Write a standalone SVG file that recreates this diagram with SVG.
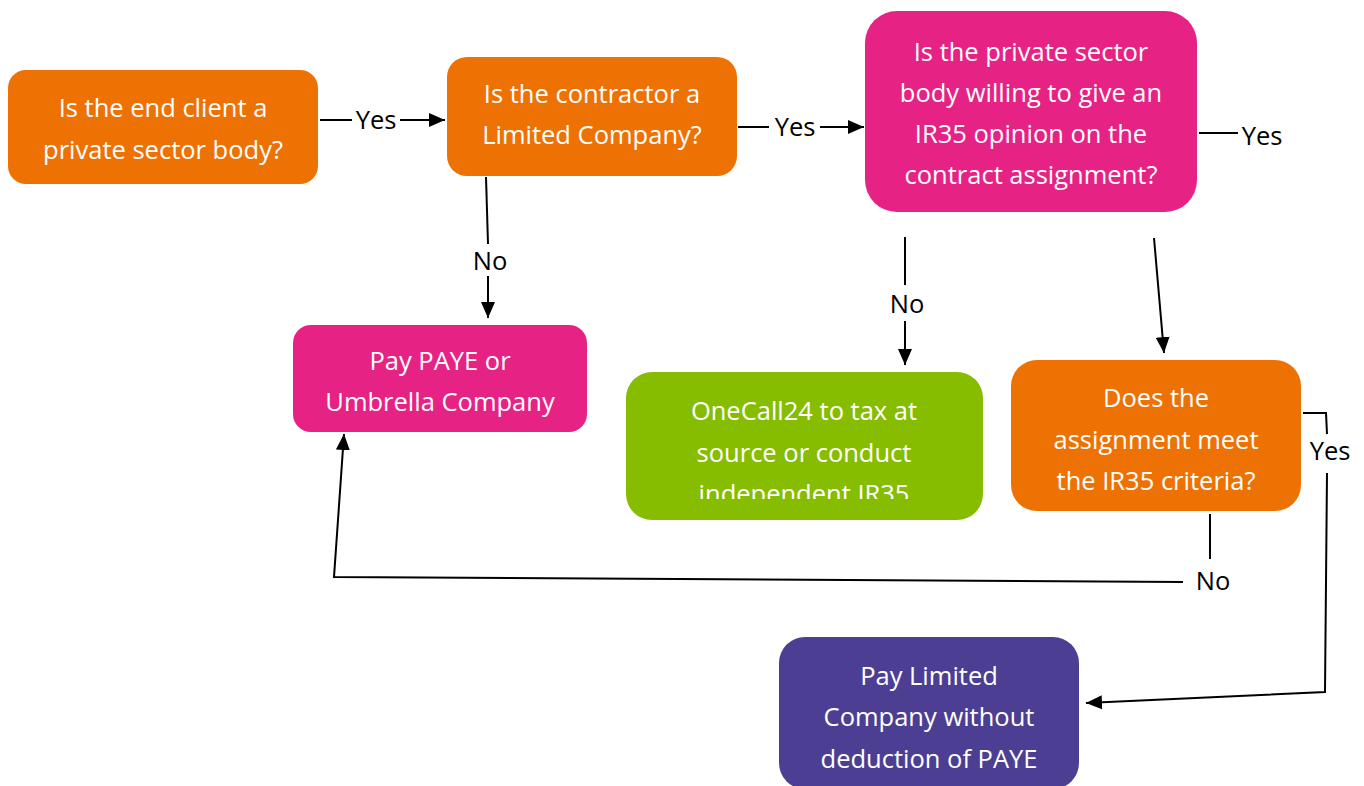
<svg xmlns="http://www.w3.org/2000/svg" width="1364" height="786" viewBox="0 0 1364 786">
<style>
.box text{font-family:"Open Sans","Liberation Sans",sans-serif;font-size:25.5px;fill:#ffffff;text-anchor:middle}
.lbl{font-family:"Open Sans","Liberation Sans",sans-serif;font-size:25.5px;fill:#000000;text-anchor:middle}
.ln{fill:none;stroke:#000000;stroke-width:2}
.arw{fill:none;stroke:#000000;stroke-width:2;marker-end:url(#arr)}
.orange{fill:#EE7203}
.pink{fill:#E62285}
.green{fill:#86BD00}
.purple{fill:#4C3F93}
</style>
<defs>
<marker id="arr" viewBox="0 0 16 14" refX="16" refY="7" markerWidth="16" markerHeight="14" markerUnits="userSpaceOnUse" orient="auto">
<path d="M0 0 L16 7 L0 14 Z" fill="#000000"/>
</marker>
<clipPath id="clipGreen"><rect x="626" y="372" width="357" height="127"/></clipPath>
</defs>
<rect width="1364" height="786" fill="#ffffff"/>

<g id="n1" class="box">
<rect class="orange" x="8" y="70" width="310" height="114" rx="18"/>
<text x="163" y="117">Is the end client a</text>
<text x="163" y="159">private sector body?</text>
</g>
<g id="n2" class="box">
<rect class="orange" x="447" y="57" width="290" height="119" rx="20"/>
<text x="592" y="103">Is the contractor a</text>
<text x="592" y="144">Limited Company?</text>
</g>
<g id="n3" class="box">
<rect class="pink" x="865" y="11" width="332" height="201" rx="32"/>
<text x="1031" y="61">Is the private sector</text>
<text x="1031" y="102">body willing to give an</text>
<text x="1031" y="143">IR35 opinion on the</text>
<text x="1031" y="184">contract assignment?</text>
</g>
<g id="n4" class="box">
<rect class="pink" x="293" y="325" width="294" height="107" rx="18"/>
<text x="440" y="370">Pay PAYE or</text>
<text x="440" y="411">Umbrella Company</text>
</g>
<g id="n5" class="box">
<rect class="green" x="626" y="372" width="357" height="148" rx="26"/>
<g clip-path="url(#clipGreen)">
<text x="804" y="420">OneCall24 to tax at</text>
<text x="804" y="462">source or conduct</text>
<text x="804" y="503">independent IR35</text>
</g>
</g>
<g id="n6" class="box">
<rect class="orange" x="1011" y="360" width="290" height="151" rx="26"/>
<text x="1156" y="407">Does the</text>
<text x="1156" y="449">assignment meet</text>
<text x="1156" y="490">the IR35 criteria?</text>
</g>
<g id="n7" class="box">
<rect class="purple" x="779" y="637" width="300" height="152" rx="26"/>
<text x="929" y="685">Pay Limited</text>
<text x="929" y="726">Company without</text>
<text x="929" y="768">deduction of PAYE</text>
</g>

<g id="connectors">
<path class="ln" d="M320 120 H352"/>
<path class="arw" d="M400 120 H445"/>
<text class="lbl" x="376" y="129">Yes</text>

<path class="ln" d="M738 127 H769"/>
<path class="arw" d="M820 127 H864"/>
<text class="lbl" x="795" y="136">Yes</text>

<path class="ln" d="M1199 133 H1238"/>
<text class="lbl" x="1262" y="145">Yes</text>

<path class="ln" d="M486 177 L488 244"/>
<path class="arw" d="M488 276 L488 318"/>
<text class="lbl" x="490" y="270">No</text>

<path class="ln" d="M905 237 V285"/>
<path class="arw" d="M905 321 V365"/>
<text class="lbl" x="907" y="313">No</text>

<path class="arw" d="M1154 238 L1164 353"/>

<path class="ln" d="M1303 413 H1326 L1327 434"/>
<path class="arw" d="M1327 473 L1325 692 L1086 703"/>
<text class="lbl" x="1330" y="460">Yes</text>

<path class="ln" d="M1210 514 V559"/>
<path class="arw" d="M1183 582 L334 577 L344 434"/>
<text class="lbl" x="1213" y="590">No</text>
</g>
</svg>
